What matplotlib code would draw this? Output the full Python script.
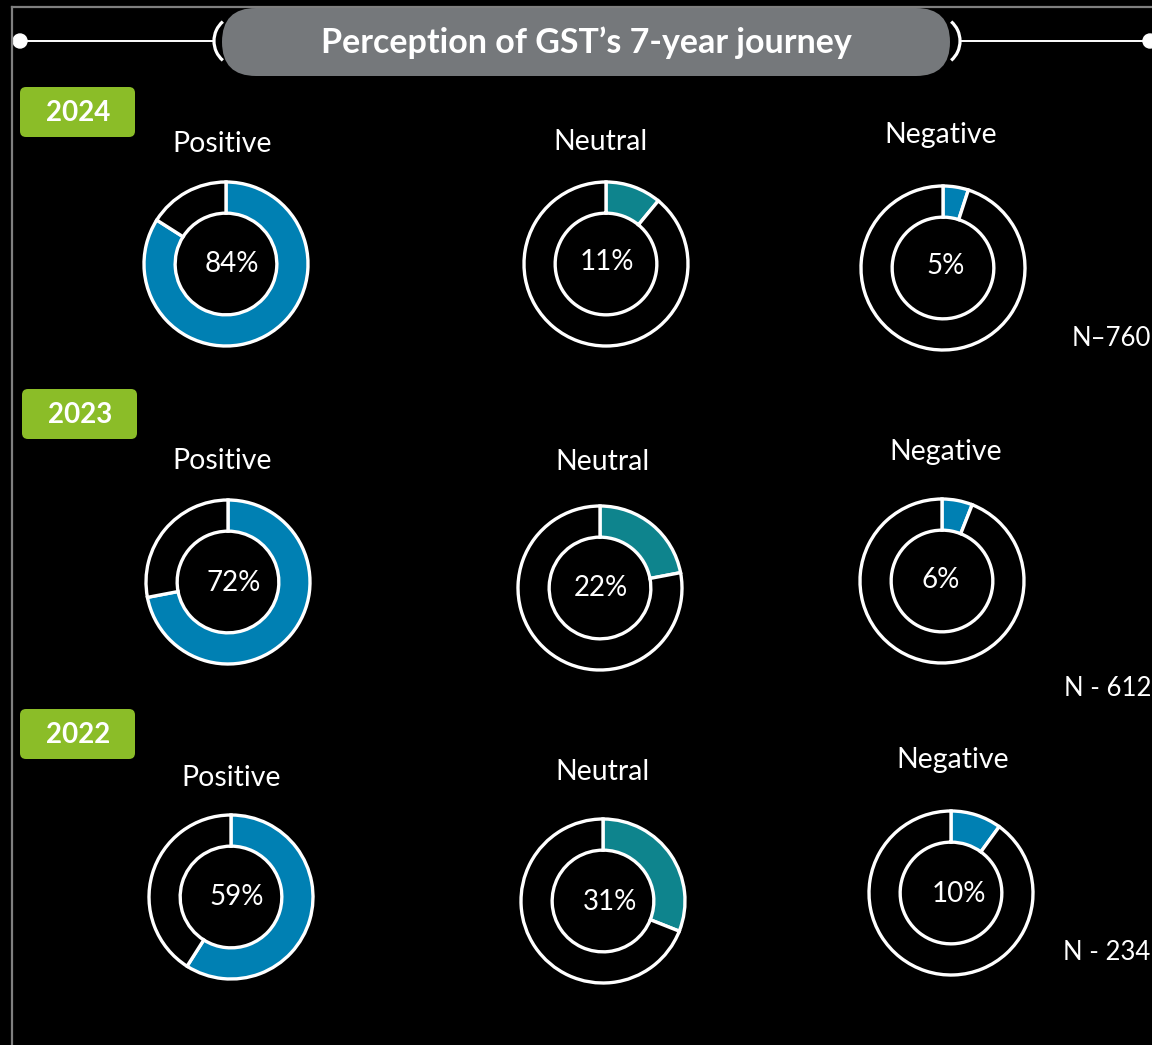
import matplotlib
matplotlib.use("Agg")
import matplotlib.pyplot as plt
from matplotlib.patches import FancyBboxPatch, Arc, Circle

W, H = 1152, 1045
FONT = "Lato"

title = "Perception of GST\u2019s 7-year journey"
years = ["2024", "2023", "2022"]
sentiments = ["Positive", "Neutral", "Negative"]
values = {
    "2024": [84, 11, 5],
    "2023": [72, 22, 6],
    "2022": [59, 31, 10],
}
sample_labels = ["N\u2013760", "N - 612", "N - 234"]

colors = {"Positive": "#0080B3", "Neutral": "#0E848D", "Negative": "#0080B3"}

# layout (pixels)
donut_centers = {
    "2024": [(226, 264), (606, 264), (943, 268)],
    "2023": [(228, 582), (600, 588), (942, 581)],
    "2022": [(231, 897), (603, 901), (951, 893)],
}
label_pos = {
    "2024": [(222, 144), (600, 142), (941, 135)],
    "2023": [(222, 461), (602, 462), (946, 452)],
    "2022": [(231, 778), (602, 772), (953, 760)],
}
pct_offset = {
    "2024": [(6, 0), (1, -2), (3, -2)],
    "2023": [(6, 1), (1, 0), (-1, -1)],
    "2022": [(6, 0), (7, 1), (8, 1)],
}
badge_pos = {"2024": (20, 87), "2023": (22, 389), "2022": (20, 709)}
n_pos = [(1111, 338), (1108, 688), (1107, 953)]
R_OUT = 82

fig = plt.figure(figsize=(W / 100, H / 100), dpi=100, facecolor="black")
bg = fig.add_axes([0, 0, 1, 1])
bg.set_xlim(0, W)
bg.set_ylim(H, 0)
bg.set_facecolor("black")
bg.axis("off")

# frame
bg.plot([12, 12], [7, H], color="#7f7f7f", lw=1.6)
bg.plot([12, W], [7, 7], color="#7f7f7f", lw=1.6)

# title pill
pill = FancyBboxPatch((222, 8), 728, 68, boxstyle="round,pad=0,rounding_size=34",
                      fc="#75787B", ec="none")
bg.add_patch(pill)
bg.text(586, 43, title, color="white", fontsize=24.5, fontweight="bold",
        family=FONT, ha="center", va="center")

# connector lines, brackets, dots
bg.plot([20, 212], [41, 41], color="white", lw=1.4)
bg.plot([962, 1148], [41, 41], color="white", lw=1.4)
bg.add_patch(Circle((20, 41), 7, color="white"))
bg.add_patch(Circle((1150, 41), 7, color="white"))
bg.add_patch(Arc((238, 41), 48, 50, theta1=128, theta2=232, color="white", lw=2.3))
bg.add_patch(Arc((936, 41), 48, 50, theta1=-52, theta2=52, color="white", lw=2.3))

# year badges
for y in years:
    bx, by = badge_pos[y]
    bg.add_patch(FancyBboxPatch((bx, by), 115, 50, boxstyle="round,pad=0,rounding_size=6",
                                fc="#8BBD28", ec="none"))
    bg.text(bx + 58, by + 26, y, color="white", fontsize=20, fontweight="bold",
            family=FONT, ha="center", va="center")

# labels and N
for y, (nx, ny) in zip(years, n_pos):
    for s, (lx, ly) in zip(sentiments, label_pos[y]):
        bg.text(lx, ly, s, color="white", fontsize=20.5, family=FONT,
                ha="center", va="center")
    bg.text(nx, ny, sample_labels[years.index(y)], color="white", fontsize=18.5,
            family=FONT, ha="center", va="center")

# donuts
pad = 1.06
for y in years:
    for i, s in enumerate(sentiments):
        cx, cy = donut_centers[y][i]
        v = values[y][i]
        size = 2 * R_OUT * pad
        ax = fig.add_axes([(cx - size / 2) / W, 1 - (cy + size / 2) / H, size / W, size / H])
        ax.set_facecolor("none")
        ax.pie([v, 100 - v], colors=[colors[s], "black"], startangle=90, counterclock=False,
               radius=1, wedgeprops=dict(width=0.38, edgecolor="white", linewidth=2.4))
        ax.set_xlim(-pad, pad)
        ax.set_ylim(-pad, pad)
        ax.set_aspect("equal")
        ax.axis("off")
        ox, oy = pct_offset[y][i]
        bg.text(cx + ox, cy + oy, f"{v}%", color="white", fontsize=20, family=FONT,
                ha="center", va="center", zorder=10)

fig.savefig("out.png", dpi=100, facecolor="black")
